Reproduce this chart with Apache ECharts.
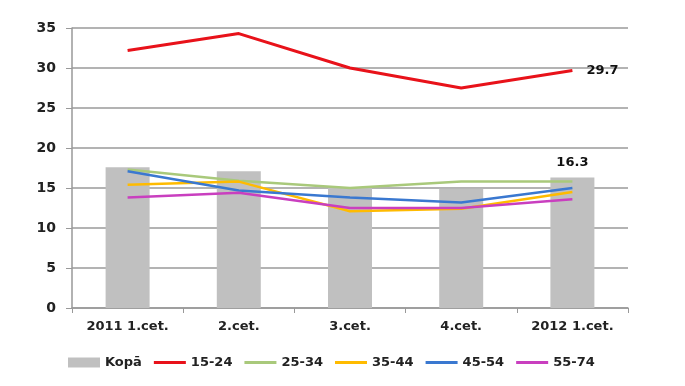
<!DOCTYPE html>
<html>
<head>
<meta charset="utf-8">
<script src="https://cdn.jsdelivr.net/npm/echarts@6/dist/echarts.min.js"></script>
<style>html,body{margin:0;padding:0;background:#fff}#c{width:685px;height:386px}</style>
</head>
<body>
<div id="c"></div>
<script>
var categories = ['2011 1.cet.', '2.cet.', '3.cet.', '4.cet.', '2012 1.cet.'];
var yTicks = [0, 5, 10, 15, 20, 25, 30, 35];
var kopa = [17.6, 17.1, 15.0, 14.9, 16.3];
var s1524 = [32.2, 34.3, 30.0, 27.5, 29.7];
var s2534 = [17.3, 15.9, 15.0, 15.8, 15.8];
var s3544 = [15.4, 15.8, 12.1, 12.4, 14.5];
var s4554 = [17.1, 14.7, 13.8, 13.2, 15.0];
var s5574 = [13.8, 14.4, 12.5, 12.5, 13.6];

var font = 'DejaVu Sans';
var lineIcon = 'path://M0,0L32,0L32,3L0,3Z';
var chart = echarts.init(document.getElementById('c'));
function lineSeries(name, data, color, width, lastLabel) {
  return {
    name: name, type: 'line', data: data, symbol: 'none', showSymbol: false, z: 3,
    lineStyle: { color: color, width: width },
    itemStyle: { color: color },
    label: { show: false },
    endLabel: lastLabel ? { show: true, formatter: function(p){ return p.value.toFixed(1); }, color: '#111', fontFamily: font, fontWeight: 'bold', fontSize: 13, distance: 14 } : undefined
  };
}
chart.setOption({
  animation: false,
  grid: { left: 72, right: 57, top: 28, bottom: 78 },
  legend: {
    bottom: 12, left: 63, itemWidth: 32, itemHeight: 10, itemGap: 12,
    textStyle: { fontFamily: font, fontSize: 13, fontWeight: 'bold', color: '#222' },
    data: [
      { name: 'Kopā', icon: 'rect' },
      { name: '15-24', icon: lineIcon }, { name: '25-34', icon: lineIcon },
      { name: '35-44', icon: lineIcon }, { name: '45-54', icon: lineIcon }, { name: '55-74', icon: lineIcon }
    ]
  },
  xAxis: {
    type: 'category', data: categories, boundaryGap: true,
    axisLine: { lineStyle: { color: '#999', width: 1.5 } },
    axisTick: { show: true, length: 5, lineStyle: { color: '#999' } },
    axisLabel: { fontFamily: font, fontSize: 13, fontWeight: 'bold', color: '#222', margin: 12 }
  },
  yAxis: {
    type: 'value', min: 0, max: 35, interval: 5,
    axisLine: { show: true, lineStyle: { color: '#999', width: 1.5 } },
    axisTick: { show: true, length: 6, inside: false, lineStyle: { color: '#999' } },
    axisLabel: { fontFamily: font, fontSize: 14, fontWeight: 'bold', color: '#222', margin: 16,
      formatter: function(v){ return yTicks.indexOf(v) >= 0 ? String(v) : ''; } },
    splitLine: { lineStyle: { color: '#9a9a9a', width: 1.5 } }
  },
  series: [
    { name: 'Kopā', type: 'bar', data: kopa, barWidth: 44, z: 2,
      itemStyle: { color: '#c0c0c0' },
      label: { show: true, position: 'top', distance: 8, color: '#111', fontFamily: font, fontWeight: 'bold', fontSize: 13,
        formatter: function(p){ return p.dataIndex === kopa.length - 1 ? p.value.toFixed(1) : ''; } } },
    lineSeries('15-24', s1524, '#e8121a', 3, true),
    lineSeries('25-34', s2534, '#a9c97b', 2.5, false),
    lineSeries('35-44', s3544, '#ffbb00', 2.5, false),
    lineSeries('45-54', s4554, '#3a78d0', 2.5, false),
    lineSeries('55-74', s5574, '#c93fbf', 2.5, false)
  ]
});
</script>
</body>
</html>
